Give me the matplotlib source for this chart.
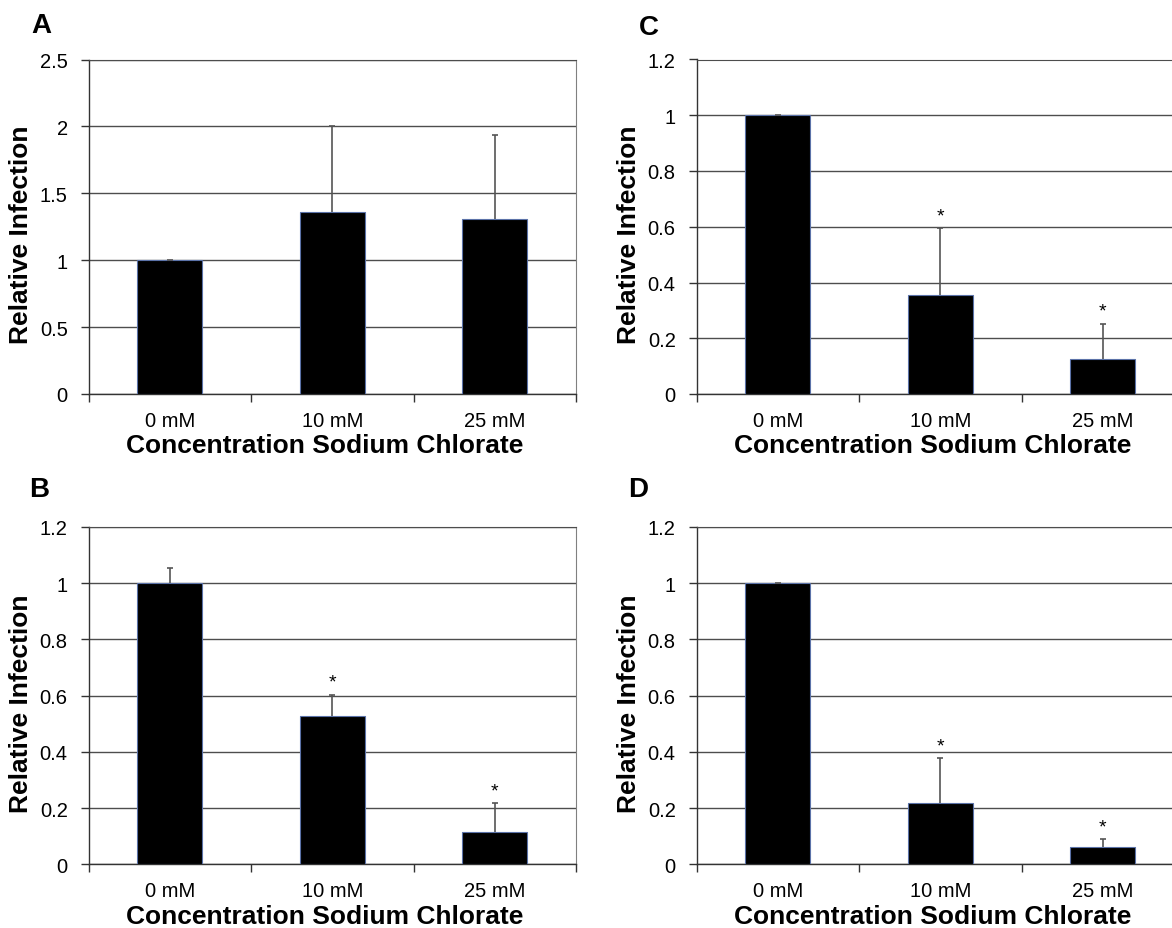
import numpy as np
import matplotlib.pyplot as plt

plt.rcParams['font.family'] = ['Liberation Sans', 'DejaVu Sans']

doses = ['0 mM', '10 mM', '25 mM']

# mean relative infection and upper error for each panel
vals_A = [1.0, 1.36, 1.31]
errs_A = [0.0, 0.64, 0.625]
vals_B = [1.0, 0.527, 0.114]
errs_B = [0.053, 0.077, 0.103]
vals_C = [1.0, 0.356, 0.127]
errs_C = [0.0, 0.239, 0.124]
vals_D = [1.0, 0.217, 0.063]
errs_D = [0.0, 0.16, 0.026]

# which bars get a significance star
stars_A = [False, False, False]
stars_B = [False, True, True]
stars_C = [False, True, True]
stars_D = [False, True, True]

W, H = 1172, 929
fig = plt.figure(figsize=(W / 100, H / 100), dpi=100)

panels = [
    # letter, vals, errs, stars, ymax, ystep, (left, top, bottom) px, letter xy px
    ('A', vals_A, errs_A, stars_A, 2.5, 0.5, (88.5, 60.5, 395), (31, 33)),
    ('C', vals_C, errs_C, stars_C, 1.2, 0.2, (696.5, 60.5, 395), (639, 35)),
    ('B', vals_B, errs_B, stars_B, 1.2, 0.2, (88.5, 528, 865.3), (29, 497)),
    ('D', vals_D, errs_D, stars_D, 1.2, 0.2, (696.5, 528, 865.3), (628, 497)),
]

grid_col = '#4d4d4d'
x = np.arange(len(doses))

for letter, vals, errs, stars, ymax, ystep, (l, t, b), (lx, ly) in panels:
    ax = fig.add_axes([l / W, 1 - b / H, 487.5 / W, (b - t) / H])
    ax.bar(x, vals, width=0.4, color='black', edgecolor='#5b72a8',
           linewidth=0.8, zorder=3)
    eb = ax.errorbar(x, vals, yerr=[np.zeros(len(vals)), errs], fmt='none',
                     ecolor='#555555', elinewidth=1.2, capsize=2,
                     capthick=1.2, zorder=4)
    # only the upper cap is drawn
    eb[1][0].set_visible(False)
    for i, s in enumerate(stars):
        if s:
            ax.annotate('*', xy=(x[i], vals[i] + errs[i]), xytext=(0, 3),
                        textcoords='offset points', ha='center', va='bottom',
                        fontsize=14)

    ax.set_xlim(-0.5, len(doses) - 0.5)
    ax.set_ylim(0, ymax)
    ticks = np.arange(0, ymax + ystep / 2, ystep)
    ax.set_yticks(ticks)
    ax.set_yticklabels(['%g' % v for v in ticks])
    ax.yaxis.grid(True, color=grid_col, linewidth=1.0, zorder=0)
    ax.set_axisbelow(True)

    # category boundaries carry the tick marks, labels sit on minor ticks
    ax.set_xticks(np.arange(-0.5, len(doses)), [''] * (len(doses) + 1))
    ax.set_xticks(x, doses, minor=True)
    ax.tick_params(axis='x', which='major', direction='out', length=6,
                   width=1, color='#333333')
    ax.tick_params(axis='x', which='minor', length=0, pad=12, labelsize=14.5)
    ax.tick_params(axis='y', direction='out', length=6, width=1,
                   color='#333333', pad=9, labelsize=14.5)

    for side in ['left', 'bottom']:
        ax.spines[side].set_color('#333333')
        ax.spines[side].set_linewidth(1.0)
    ax.spines['top'].set_color(grid_col)
    ax.spines['right'].set_color('#808080')

    ax.set_ylabel('Relative Infection', fontsize=19, fontweight='bold')
    ax.yaxis.set_label_coords(-0.113, 0.48)
    ax.set_xlabel('Concentration Sodium Chlorate', fontsize=19,
                  fontweight='bold')
    ax.xaxis.set_label_coords(0.485, -0.118)

    fig.text(lx / W, 1 - ly / H, letter, fontsize=20, fontweight='bold',
             va='baseline')

fig.savefig('out.png', dpi=100)
